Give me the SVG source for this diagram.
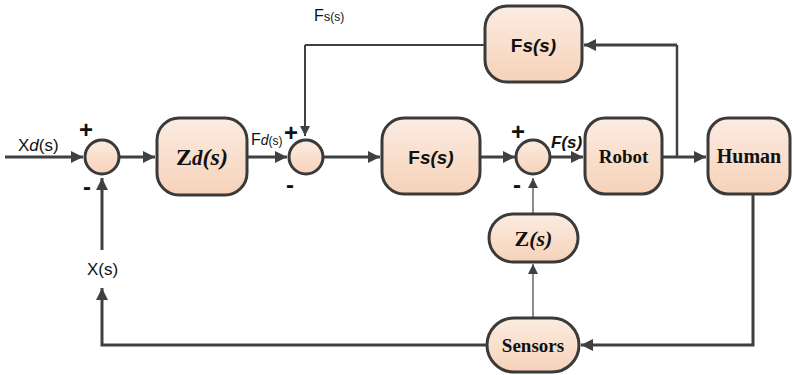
<svg xmlns="http://www.w3.org/2000/svg" width="792" height="375" viewBox="0 0 792 375">
<defs>
<linearGradient id="g" x1="0" y1="0" x2="0" y2="1">
<stop offset="0" stop-color="#fcece2"/>
<stop offset="1" stop-color="#f6d2b9"/>
</linearGradient>
<marker id="a" viewBox="0 0 10 10" refX="10" refY="5" markerWidth="10" markerHeight="10" markerUnits="userSpaceOnUse" orient="auto">
<path d="M0,0 L10,5 L0,10 z" fill="#404040"/>
</marker>
<marker id="b" viewBox="0 0 10 10" refX="10" refY="5" markerWidth="12" markerHeight="12" markerUnits="userSpaceOnUse" orient="auto">
<path d="M0,0 L10,5 L0,10 z" fill="#404040"/>
</marker>
</defs>
<style>
.n{fill:url(#g);stroke:#3a3a3a;stroke-width:3}
.c{fill:none;stroke:#404040;stroke-width:3}
.t{fill:none;stroke:#404040;stroke-width:1.2}
.serif{font-family:"Liberation Serif","Times New Roman",serif;font-weight:bold;fill:#111}
.sans{font-family:"Liberation Sans Narrow","Liberation Sans",Arial,sans-serif;fill:#111}
.box{font-family:"Liberation Sans",Arial,sans-serif;font-weight:bold;fill:#111}
.sign{font-family:"Liberation Sans",Arial,sans-serif;font-weight:900;fill:#111}
</style>
<g id="connectors">
<path class="c" d="M5,157 H83" marker-end="url(#b)"/>
<path class="c" d="M119,157 H155" marker-end="url(#b)"/>
<path class="c" d="M247,157 H287" marker-end="url(#b)"/>
<path class="c" d="M323,157 H380" marker-end="url(#b)"/>
<path class="c" d="M480,157 H515" marker-end="url(#b)"/>
<path class="c" d="M550,157 H583" marker-end="url(#b)"/>
<path class="c" d="M662,157 H706" marker-end="url(#b)"/>
<path class="t" d="M677,157 V45" style="stroke-width:2.5"/>
<path class="c" d="M677,45 H584" marker-end="url(#b)"/>
<path class="t" d="M485,45 H305" style="stroke-width:2"/>
<path class="c" d="M305,45 V136" style="stroke-width:2" marker-end="url(#a)"/>
<path class="t" d="M533,214 V178" marker-end="url(#a)"/>
<path class="t" d="M533,318 V264" marker-end="url(#a)"/>
<path class="c" d="M753,194 V345 H581" marker-end="url(#b)"/>
<path class="c" d="M487,345 H102 V288" marker-end="url(#b)"/>
<path class="c" d="M102,250 V178" marker-end="url(#b)"/>
</g>
<g id="sum1"><circle class="n" cx="102" cy="157" r="17"/></g>
<g id="sum2"><circle class="n" cx="306" cy="157" r="17"/></g>
<g id="sum3"><circle class="n" cx="533" cy="157" r="17"/></g>
<g id="zd"><rect class="n" x="157" y="118" width="90" height="77" rx="22"/>
<text class="serif" x="202" y="165" text-anchor="middle" font-size="24">Z<tspan font-style="italic" font-size="21">d</tspan><tspan font-style="italic">(s)</tspan></text></g>
<g id="fs-mid"><rect class="n" x="382" y="118" width="98" height="76" rx="22"/>
<text class="box" x="431" y="164" text-anchor="middle" font-size="19">F<tspan font-style="italic">s(s)</tspan></text></g>
<g id="robot"><rect class="n" x="585" y="118" width="77" height="76" rx="20"/>
<text class="serif" x="623.5" y="163" text-anchor="middle" font-size="19">Robot</text></g>
<g id="human"><rect class="n" x="708" y="118" width="82" height="76" rx="20"/>
<text class="serif" x="749" y="163" text-anchor="middle" font-size="20">Human</text></g>
<g id="fs-top"><rect class="n" x="485" y="6" width="97" height="76" rx="22"/>
<text class="box" x="533.5" y="52" text-anchor="middle" font-size="19">F<tspan font-style="italic">s(s)</tspan></text></g>
<g id="z"><rect class="n" x="489" y="214" width="89" height="48" rx="24"/>
<text class="serif" x="533.5" y="246" text-anchor="middle" font-size="22">Z<tspan font-style="italic">(s)</tspan></text></g>
<g id="sensors"><rect class="n" x="487" y="318" width="92" height="54" rx="27"/>
<text class="serif" x="533" y="352" text-anchor="middle" font-size="19">Sensors</text></g>
<g id="labels">
<text class="sans" x="18" y="151" font-size="17">X<tspan font-style="italic">d</tspan>(s)</text>
<text class="sans" x="251" y="145" font-size="16">F<tspan font-style="italic" font-size="14">d</tspan><tspan font-size="12">(s)</tspan></text>
<text class="sans" x="314" y="21" font-size="16">F<tspan font-size="13">s</tspan><tspan font-size="12">(s)</tspan></text>
<text class="sans" x="87" y="275" font-size="17">X(s)</text>
<text x="551" y="148" font-size="17" font-family="Liberation Sans,Arial,sans-serif" font-weight="bold" font-style="italic" fill="#111">F(s)</text>
<text class="sign" x="86" y="138" font-size="24" text-anchor="middle">+</text>
<text class="sign" x="87" y="195" font-size="24" text-anchor="middle">-</text>
<text class="sign" x="291" y="141" font-size="24" text-anchor="middle">+</text>
<text class="sign" x="290" y="193" font-size="24" text-anchor="middle">-</text>
<text class="sign" x="518" y="140" font-size="24" text-anchor="middle">+</text>
<text class="sign" x="517" y="193" font-size="24" text-anchor="middle">-</text>
</g>
</svg>
